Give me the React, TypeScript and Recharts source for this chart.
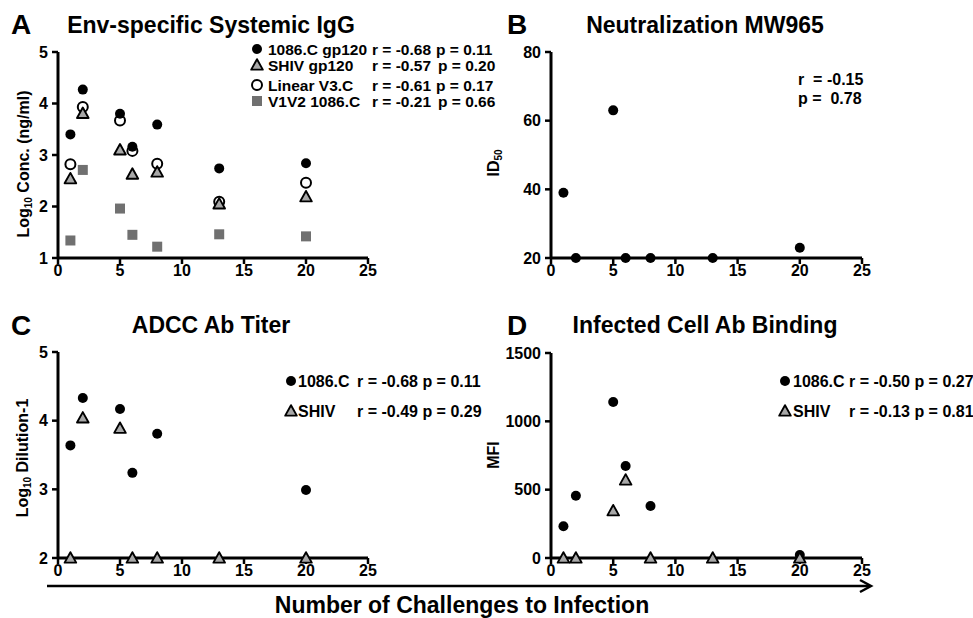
import React from 'react';
import { ScatterChart, Scatter, XAxis, YAxis } from 'recharts';

// ---------- data ----------
const challenges = [1, 2, 5, 6, 8, 13, 20];
const challengesNo13 = [1, 2, 5, 6, 8, 20];
const xTicks = [0, 5, 10, 15, 20, 25];

// Panel A: Env-specific Systemic IgG (log10 ng/ml)
const gp120_1086C = [3.4, 4.27, 3.8, 3.16, 3.59, 2.74, 2.84];
const gp120_SHIV = [2.54, 3.81, 3.1, 2.63, 2.67, 2.05, 2.19];
const linearV3C = [2.82, 3.93, 3.67, 3.08, 2.83, 2.09, 2.46];
const v1v2_1086C = [1.34, 2.71, 1.96, 1.45, 1.22, 1.46, 1.42];
const aTicks = [1, 2, 3, 4, 5];

// Panel B: Neutralization MW965 (ID50)
const neutMW965 = [39, 20, 63, 20, 20, 20, 23];
const bTicks = [20, 40, 60, 80];

// Panel C: ADCC Ab titer (log10 dilution-1)
const adcc1086C = [3.64, 4.33, 4.17, 3.24, 3.81, 2.99];
const adccSHIV = [2, 4.04, 3.89, 2, 2, 2, 2];
const cTicks = [2, 3, 4, 5];

// Panel D: Infected cell Ab binding (MFI)
const mfi1086C = [232, 456, 1141, 673, 380, 22];
const mfiSHIV = [0, 0, 346, 571, 0, 0, 0];
const dTicks = [0, 500, 1000, 1500];

const pts = (xs: number[], ys: number[]) => xs.map((x, i) => ({ x, y: ys[i] }));

// ---------- shapes ----------
const FilledDot = (p: any) => <circle cx={p.cx} cy={p.cy} r={5} fill="#000" />;
const OpenDot = (p: any) => (
  <circle cx={p.cx} cy={p.cy} r={5} fill="none" stroke="#000" strokeWidth={2} />
);
const Tri = (p: any) => {
  const s = 5.8;
  return (
    <polygon
      points={`${p.cx},${p.cy - s} ${p.cx + s},${p.cy + s * 0.8} ${p.cx - s},${p.cy + s * 0.8}`}
      fill="#a8a8a8"
      stroke="#000"
      strokeWidth={1.9}
      strokeLinejoin="round"
    />
  );
};
const Sq = (p: any) => <rect x={p.cx - 5} y={p.cy - 5} width={10} height={10} fill="#707070" />;

const FONT = 'Arial, "Liberation Sans", Helvetica, sans-serif';
const axisLine = { stroke: '#000', strokeWidth: 3 };
const tickLine = { stroke: '#000', strokeWidth: 2.5 };

const XTick = (p: any) => (
  <text
    x={p.x}
    y={p.y}
    dy="0.72em"
    textAnchor="middle"
    fontSize={16}
    fontWeight="bold"
    fontFamily={FONT}
    fill="#000"
  >
    {p.payload.value}
  </text>
);
const YTick = (p: any) => (
  <text
    x={p.x}
    y={p.y}
    dy="0.36em"
    textAnchor="end"
    fontSize={16}
    fontWeight="bold"
    fontFamily={FONT}
    fill="#000"
  >
    {p.payload.value}
  </text>
);

function axes(yDomain: number[], yTicks: number[]) {
  return [
    <XAxis
      key="x"
      type="number"
      dataKey="x"
      domain={[0, 25]}
      ticks={xTicks}
      interval={0}
      height={30}
      axisLine={axisLine}
      tickLine={tickLine}
      tick={XTick}
      tickSize={6}
      tickMargin={0}
    />,
    <YAxis
      key="y"
      type="number"
      dataKey="y"
      domain={yDomain}
      ticks={yTicks}
      interval={0}
      width={30}
      axisLine={axisLine}
      tickLine={tickLine}
      tick={YTick}
      tickSize={6}
      tickMargin={4}
    />,
  ];
}

const legendText = { fontFamily: FONT, fontWeight: 'bold', fontSize: 16, fill: '#000' } as any;
const legendTextA = { ...legendText, fontSize: 15.5 };

export default function App() {
  return (
    <div
      style={{
        position: 'absolute',
        left: 0,
        top: 0,
        width: 973,
        height: 618,
        background: '#fff',
        overflow: 'hidden',
        fontFamily: FONT,
      }}
    >
      {/* Panel A */}
      <div style={{ position: 'absolute', left: 0, top: 0 }}>
        <ScatterChart width={490} height={300} margin={{ top: 52, right: 122, bottom: 12, left: 28 }}>
          {axes([1, 5], aTicks)}
          <Scatter data={pts(challenges, v1v2_1086C)} shape={Sq} isAnimationActive={false} />
          <Scatter data={pts(challenges, gp120_1086C)} shape={FilledDot} isAnimationActive={false} />
          <Scatter data={pts(challenges, linearV3C)} shape={OpenDot} isAnimationActive={false} />
          <Scatter data={pts(challenges, gp120_SHIV)} shape={Tri} isAnimationActive={false} />
        </ScatterChart>
      </div>

      {/* Panel B */}
      <div style={{ position: 'absolute', left: 480, top: 0 }}>
        <ScatterChart width={493} height={300} margin={{ top: 52, right: 111, bottom: 12, left: 41 }}>
          {axes([20, 80], bTicks)}
          <Scatter data={pts(challenges, neutMW965)} shape={FilledDot} isAnimationActive={false} />
        </ScatterChart>
      </div>

      {/* Panel C */}
      <div style={{ position: 'absolute', left: 0, top: 300 }}>
        <ScatterChart width={490} height={318} margin={{ top: 52, right: 122, bottom: 30, left: 28 }}>
          {axes([2, 5], cTicks)}
          <Scatter data={pts(challengesNo13, adcc1086C)} shape={FilledDot} isAnimationActive={false} />
          <Scatter data={pts(challenges, adccSHIV)} shape={Tri} isAnimationActive={false} />
        </ScatterChart>
      </div>

      {/* Panel D */}
      <div style={{ position: 'absolute', left: 480, top: 300 }}>
        <ScatterChart width={493} height={318} margin={{ top: 53, right: 111, bottom: 30, left: 41 }}>
          {axes([0, 1500], dTicks)}
          <Scatter data={pts(challengesNo13, mfi1086C)} shape={FilledDot} isAnimationActive={false} />
          <Scatter data={pts(challenges, mfiSHIV)} shape={Tri} isAnimationActive={false} />
        </ScatterChart>
      </div>

      {/* Overlay annotations */}
      <svg
        width={973}
        height={618}
        style={{ position: 'absolute', left: 0, top: 0, pointerEvents: 'none' }}
        fontFamily={FONT}
        fontWeight="bold"
      >
        {/* panel letters */}
        <text x={11} y={34} fontSize={28}>A</text>
        <text x={507} y={34} fontSize={28}>B</text>
        <text x={11} y={335} fontSize={28}>C</text>
        <text x={507} y={335} fontSize={28}>D</text>

        {/* titles */}
        <text x={211} y={33} fontSize={23} textAnchor="middle">Env-specific Systemic IgG</text>
        <text x={705} y={33} fontSize={23} textAnchor="middle">Neutralization MW965</text>
        <text x={211} y={333} fontSize={23} textAnchor="middle">ADCC Ab Titer</text>
        <text x={705} y={333} fontSize={23} textAnchor="middle">Infected Cell Ab Binding</text>

        {/* y-axis labels */}
        <text transform="translate(29,164) rotate(-90)" fontSize={16} textAnchor="middle">
          Log<tspan fontSize={10} dy={3}>10</tspan>
          <tspan dy={-3}> Conc. (ng/ml)</tspan>
        </text>
        <text transform="translate(499,163) rotate(-90)" fontSize={16} textAnchor="middle">
          ID<tspan fontSize={10} dy={3}>50</tspan>
        </text>
        <text transform="translate(28,458) rotate(-90)" fontSize={16} textAnchor="middle">
          Log<tspan fontSize={10} dy={3}>10</tspan>
          <tspan dy={-3}> Dilution-1</tspan>
        </text>
        <text transform="translate(499,455) rotate(-90)" fontSize={16} textAnchor="middle">
          MFI
        </text>

        {/* Panel A legend */}
        <FilledDot cx={257} cy={49} />
        <Tri cx={257} cy={65} />
        <OpenDot cx={257} cy={85} />
        <Sq cx={257} cy={101} />
        <text x={268} y={55} style={legendTextA}>1086.C gp120</text>
        <text x={268} y={71} style={legendTextA}>SHIV gp120</text>
        <text x={268} y={91} style={legendTextA}>Linear V3.C</text>
        <text x={268} y={107} style={legendTextA}>V1V2 1086.C</text>
        <text x={372} y={55} style={legendTextA}>r = -0.68</text>
        <text x={372} y={71} style={legendTextA}>r = -0.57</text>
        <text x={372} y={91} style={legendTextA}>r = -0.61</text>
        <text x={372} y={107} style={legendTextA}>r = -0.21</text>
        <text x={436} y={55} style={legendTextA}>p = 0.11</text>
        <text x={438} y={71} style={legendTextA}>p = 0.20</text>
        <text x={436} y={91} style={legendTextA}>p = 0.17</text>
        <text x={438} y={107} style={legendTextA}>p = 0.66</text>

        {/* Panel B annotation */}
        <text x={798} y={85} style={legendText} xmlSpace="preserve">{'r  = -0.15'}</text>
        <text x={798} y={104} style={legendText} xmlSpace="preserve">{'p =  0.78'}</text>

        {/* Panel C legend */}
        <FilledDot cx={291} cy={381} />
        <Tri cx={291} cy={411} />
        <text x={298} y={387} style={legendText}>1086.C</text>
        <text x={357} y={387} style={legendText}>r = -0.68 p = 0.11</text>
        <text x={298} y={417} style={legendText}>SHIV</text>
        <text x={357} y={417} style={legendText}>r = -0.49 p = 0.29</text>

        {/* Panel D legend */}
        <FilledDot cx={785} cy={381} />
        <Tri cx={785} cy={411} />
        <text x={793} y={387} style={legendText}>1086.C</text>
        <text x={849} y={387} style={legendText}>r = -0.50 p = 0.27</text>
        <text x={793} y={417} style={legendText}>SHIV</text>
        <text x={849} y={417} style={legendText}>r = -0.13 p = 0.81</text>

        {/* bottom arrow */}
        <line x1={47} y1={586} x2={870} y2={586} stroke="#000" strokeWidth={2.5} />
        <polyline points="860,580 871,586 860,592" fill="none" stroke="#000" strokeWidth={2.5} />
        <text x={462} y={613} fontSize={23} textAnchor="middle">Number of Challenges to Infection</text>
      </svg>
    </div>
  );
}
